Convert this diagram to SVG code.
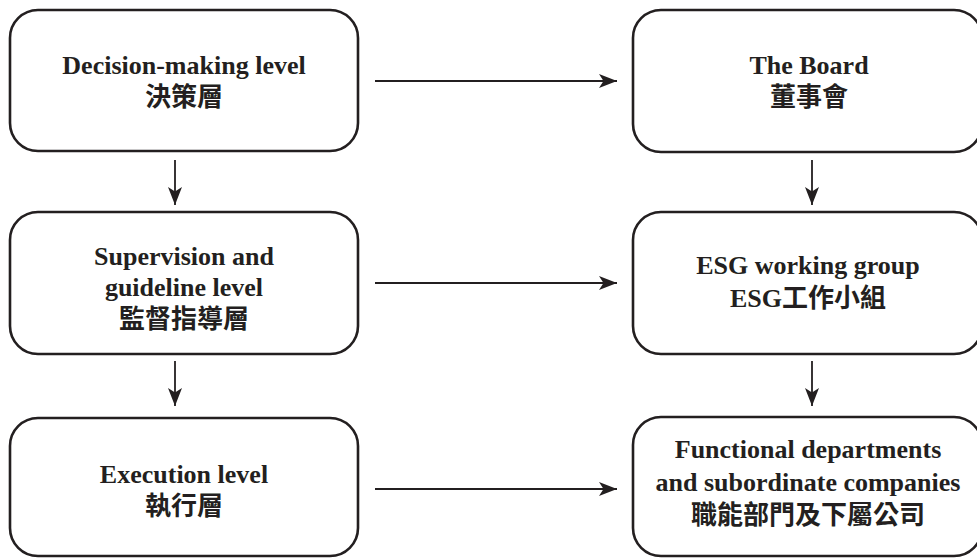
<svg xmlns="http://www.w3.org/2000/svg" width="977" height="559" viewBox="0 0 977 559">
<style>
.box{fill:#fff;stroke:#231f20;stroke-width:2.6}
.t{font-family:"Liberation Serif","Noto Sans CJK TC",serif;font-weight:bold;font-size:26px;fill:#231f20;text-anchor:middle}
.c{stroke:#231f20;stroke-width:1.8;fill:none}
</style>
<defs>
<marker id="ah" markerUnits="userSpaceOnUse" markerWidth="20" markerHeight="16" refX="18" refY="7" orient="auto">
<path d="M0,0 L18,7 L0,14 L4.5,7 z" fill="#231f20"/>
</marker>
</defs>
<rect width="977" height="559" fill="#fff"/>
<g id="decision">
<rect class="box" x="10" y="10" width="348" height="141" rx="28"/>
<text class="t" x="184" y="74">Decision-making level</text>
<text class="t" x="184" y="106">決策層</text>
</g>
<g id="supervision">
<rect class="box" x="10" y="212" width="348" height="142" rx="28"/>
<text class="t" x="184" y="265">Supervision and</text>
<text class="t" x="184" y="296">guideline level</text>
<text class="t" x="184" y="328">監督指導層</text>
</g>
<g id="execution">
<rect class="box" x="10" y="418" width="348" height="138" rx="28"/>
<text class="t" x="184" y="483">Execution level</text>
<text class="t" x="184" y="515">執行層</text>
</g>
<g id="board">
<rect class="box" x="633" y="10" width="349" height="142" rx="28"/>
<text class="t" x="809" y="74">The Board</text>
<text class="t" x="809" y="106">董事會</text>
</g>
<g id="esg">
<rect class="box" x="633" y="212" width="349" height="142" rx="28"/>
<text class="t" x="808" y="274">ESG working group</text>
<text class="t" x="808" y="307">ESG工作小組</text>
</g>
<g id="functional">
<rect class="box" x="633" y="417" width="349" height="139" rx="28"/>
<text class="t" x="808" y="458">Functional departments</text>
<text class="t" x="808" y="491">and subordinate companies</text>
<text class="t" x="808" y="524">職能部門及下屬公司</text>
</g>
<g id="connectors">
<line class="c" x1="375" y1="81" x2="617" y2="81" marker-end="url(#ah)"/>
<line class="c" x1="375" y1="283" x2="617" y2="283" marker-end="url(#ah)"/>
<line class="c" x1="375" y1="489" x2="617" y2="489" marker-end="url(#ah)"/>
<line class="c" x1="175" y1="160" x2="175" y2="205" marker-end="url(#ah)"/>
<line class="c" x1="175" y1="361" x2="175" y2="406" marker-end="url(#ah)"/>
<line class="c" x1="812" y1="160" x2="812" y2="205" marker-end="url(#ah)"/>
<line class="c" x1="812" y1="361" x2="812" y2="406" marker-end="url(#ah)"/>
</g>
</svg>
